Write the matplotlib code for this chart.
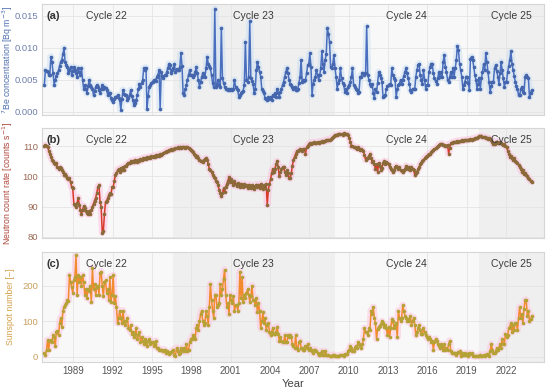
import numpy as np
import matplotlib
matplotlib.use("Agg")
import matplotlib.pyplot as plt

plt.rcParams["font.family"] = ["Liberation Sans", "DejaVu Sans"]

# ---------------------------------------------------------------- data
# monthly values, first month = Oct 1986 (mid-month), one row per year
start_year = 1986 + 9.5 / 12

be7 = [  # 7Be concentration, mBq m^-3 (scaled to Bq below)
    4.2, 6.5, 6.3,
    6.2, 5.8, 5.7, 8.6, 7.8, 6.0, 4.2, 5.0, 5.6, 6.0, 6.5, 7.2,
    7.8, 8.1, 9.0, 9.9, 7.8, 7.3, 7.0, 6.0, 6.5, 7.0, 5.7, 6.4,
    7.0, 6.5, 6.0, 5.5, 6.8, 6.2, 5.7, 6.8, 5.0, 3.6, 4.2, 3.6,
    2.9, 4.0, 5.0, 4.2, 3.8, 3.6, 2.6, 3.2, 3.9, 4.2, 3.8, 3.4,
    2.9, 3.5, 4.2, 3.6, 3.9, 3.7, 3.4, 2.6, 3.0, 2.9, 2.2, 1.8,
    1.6, 2.0, 2.3, 2.3, 2.6, 2.2, 1.8, 0.3, 2.0, 3.4, 2.8, 2.6,
    2.6, 1.8, 2.2, 2.6, 3.4, 2.5, 1.8, 1.0, 1.4, 1.8, 2.6, 3.5,
    4.4, 3.9, 4.5, 5.0, 6.8, 6.5, 6.9, 0.5, 2.5, 3.9, 4.2, 4.5,
    4.7, 4.9, 5.0, 4.8, 5.5, 5.8, 6.5, 0.5, 6.2, 5.6, 5.2, 5.7,
    5.7, 6.2, 6.8, 7.5, 7.3, 6.0, 6.5, 6.9, 7.5, 6.2, 6.6, 6.5,
    6.5, 7.0, 9.1, 7.2, 2.9, 2.6, 3.5, 4.2, 5.0, 5.8, 6.5, 5.7,
    5.7, 5.5, 5.7, 6.2, 7.0, 6.0, 5.0, 3.9, 4.6, 5.5, 6.0, 5.6,
    5.5, 6.8, 8.6, 7.5, 7.1, 6.8, 5.7, 4.5, 3.9, 16.0, 3.9, 4.2,
    5.0, 4.2, 3.9, 13.0, 5.2, 4.5, 3.9, 3.6, 3.5, 3.4, 3.6, 3.4,
    3.6, 3.4, 3.5, 5.0, 3.9, 3.6, 3.4, 2.3, 2.6, 2.9, 3.1, 3.3,
    4.2, 10.9, 5.0, 4.6, 5.5, 14.1, 5.2, 4.8, 4.4, 2.9, 3.5, 6.5,
    7.8, 7.0, 6.2, 5.5, 3.6, 3.2, 2.9, 2.1, 2.0, 1.8, 2.3, 2.0,
    2.3, 1.8, 2.6, 2.4, 2.9, 2.3, 3.6, 3.0, 2.3, 3.1, 3.6, 4.2,
    4.7, 5.5, 6.2, 6.8, 6.0, 5.0, 4.4, 4.1, 3.9, 3.6, 3.8, 3.4,
    3.4, 3.6, 4.5, 5.5, 8.1, 4.7, 5.0, 4.8, 5.0, 6.0, 7.3, 7.5,
    9.1, 7.0, 2.6, 4.4, 5.0, 5.5, 6.5, 5.8, 5.0, 5.7, 6.8, 9.4,
    7.5, 6.2, 8.1, 9.0, 13.0, 12.2, 10.9, 7.0, 6.8, 7.5, 8.9, 6.8,
    5.5, 3.6, 4.5, 5.0, 6.8, 5.2, 4.5, 4.2, 3.1, 3.5, 2.9, 3.9,
    4.2, 4.7, 5.5, 6.8, 4.2, 3.9, 3.6, 3.4, 3.0, 3.1, 5.5, 5.5,
    6.0, 6.0, 5.8, 6.0, 13.3, 5.7, 5.0, 4.4, 4.0, 4.4, 3.0, 2.1,
    3.6, 3.1, 4.5, 6.2, 5.7, 5.2, 4.7, 2.3, 2.5, 2.6, 3.6, 4.0,
    4.2, 4.4, 4.2, 6.8, 5.7, 5.3, 5.0, 2.3, 3.5, 4.2, 4.4, 5.0,
    4.4, 5.0, 5.6, 6.2, 6.8, 6.0, 5.2, 4.4, 3.4, 3.1, 3.6, 3.6,
    3.6, 5.5, 6.5, 7.3, 7.5, 5.7, 5.0, 4.4, 6.5, 5.0, 3.6, 4.2,
    4.2, 6.2, 7.0, 7.5, 7.5, 6.0, 5.2, 4.8, 4.4, 5.2, 6.2, 5.5,
    6.2, 5.5, 7.8, 8.9, 7.0, 6.2, 5.0, 4.7, 5.5, 6.2, 5.5, 6.8,
    5.5, 6.8, 8.0, 10.2, 9.6, 7.5, 6.5, 5.5, 3.6, 4.2, 4.7, 5.5,
    5.5, 4.5, 3.4, 8.3, 8.6, 8.1, 7.0, 5.7, 5.0, 3.6, 4.4, 5.2,
    3.6, 5.2, 6.2, 7.5, 6.5, 9.1, 7.8, 6.2, 4.7, 3.1, 4.0, 4.7,
    4.7, 6.8, 7.3, 6.4, 5.5, 4.4, 6.0, 7.8, 6.5, 5.2, 3.9, 4.7,
    4.7, 6.2, 7.2, 8.1, 9.4, 7.5, 6.5, 5.6, 4.7, 4.0, 3.6, 2.6,
    2.6, 3.5, 3.9, 3.1, 3.0, 5.5, 5.7, 5.4, 5.2, 2.3, 3.0, 3.4,
]

neutron = [  # counts s^-1
    110.2, 110.3, 110.0,
    109.8, 108.5, 107.5, 106.5, 105.5, 105.0, 104.5, 104.0, 104.3, 103.0, 102.5, 103.0,
    102.7, 102.0, 101.5, 100.5, 100.8, 100.0, 99.5, 99.0, 99.3, 98.0, 96.5, 96.0,
    91.0, 90.5, 90.0, 91.2, 93.0, 90.6, 89.0, 87.5, 89.0, 90.2, 89.5, 88.5,
    88.0, 87.5, 88.5, 87.5, 89.0, 90.0, 91.0, 92.0, 93.0, 94.5, 96.5, 97.0,
    91.6, 90.0, 81.4, 81.8, 87.5, 91.6, 92.0, 92.8, 93.8, 94.5, 94.0, 96.5,
    96.5, 98.5, 100.4, 101.0, 102.0, 102.5, 101.5, 102.8, 102.0, 103.0, 102.2, 103.5,
    103.5, 104.0, 104.3, 104.5, 105.0, 104.8, 105.2, 104.6, 105.5, 105.0, 104.8, 105.5,
    105.0, 105.6, 105.3, 106.0, 105.7, 106.2, 105.8, 106.3, 106.0, 106.5, 106.2, 106.6,
    106.3, 106.8, 106.4, 107.0, 106.7, 107.2, 106.8, 107.4, 107.0, 107.3, 107.6, 108.0,
    108.2, 108.5, 108.3, 108.8, 108.6, 109.0, 108.8, 109.2, 109.0, 109.5, 109.3, 109.6,
    109.4, 109.7, 109.5, 109.8, 109.6, 109.7, 109.5, 109.8, 109.6, 109.5, 109.2, 108.8,
    108.3, 108.0, 107.5, 107.0, 106.5, 106.8, 106.0, 105.5, 105.0, 105.2, 104.8, 105.3,
    105.8, 106.0, 105.5, 104.0, 102.5, 102.0, 101.5, 100.5, 99.8, 99.3, 98.5, 98.0,
    97.0, 95.5, 94.5, 93.4, 94.5, 96.0, 94.8, 96.5, 97.5, 98.5, 99.8, 98.0,
    99.0, 98.0, 97.0, 98.5, 97.5, 96.8, 97.8, 97.5, 96.5, 97.6, 97.0, 96.5,
    97.5, 96.8, 97.0, 96.2, 97.3, 96.5, 96.0, 97.0, 96.5, 95.8, 96.8, 97.3,
    96.5, 97.0, 96.0, 97.5, 96.5, 95.8, 97.0, 96.2, 97.6, 90.6, 95.5, 97.5,
    99.0, 101.0, 102.5, 101.5, 102.5, 104.0, 105.0, 103.0, 100.0, 101.5, 102.5, 103.0,
    103.0, 101.5, 100.5, 102.0, 101.0, 99.5, 99.3, 101.0, 103.5, 105.5, 106.5, 107.5,
    108.3, 108.5, 108.8, 109.0, 108.7, 108.5, 108.9, 109.2, 107.5, 109.6, 110.2, 110.6,
    111.0, 110.8, 111.2, 111.0, 111.3, 111.0, 111.2, 111.4, 111.1, 111.5, 111.3, 111.6,
    111.5, 111.8, 111.6, 112.0, 111.9, 112.2, 112.0, 112.4, 112.6, 113.0, 113.3, 113.6,
    113.6, 113.8, 114.0, 113.9, 114.1, 114.0, 113.8, 114.2, 114.0, 113.9, 114.1, 113.8,
    112.6, 111.5, 110.0, 110.2, 109.6, 109.8, 109.5, 109.2, 109.6, 109.0, 108.8, 109.2,
    108.6, 108.3, 107.0, 105.5, 106.2, 106.0, 106.8, 107.5, 106.0, 104.8, 105.2, 104.0,
    102.5, 104.0, 101.5, 104.5, 103.5, 102.0, 102.8, 104.5, 105.0, 104.2, 104.8, 104.5,
    104.0, 103.0, 102.5, 102.0, 101.5, 102.0, 103.0, 103.5, 103.0, 102.5, 103.0, 102.0,
    101.8, 101.5, 102.0, 102.5, 103.5, 103.0, 102.5, 103.0, 102.0, 103.2, 102.5, 102.0,
    100.5, 101.0, 101.5, 102.5, 103.0, 104.0, 104.5, 105.0, 105.5, 106.0, 106.5, 106.8,
    107.0, 107.5, 107.3, 108.0, 108.3, 108.8, 109.0, 109.3, 109.6, 110.0, 110.3, 110.6,
    110.6, 110.8, 110.5, 110.3, 110.0, 110.2, 110.5, 107.5, 109.5, 111.0, 111.2, 111.3,
    111.3, 111.5, 111.4, 111.7, 111.5, 111.8, 111.6, 112.0, 111.8, 112.0, 111.9, 112.1,
    112.0, 112.2, 112.1, 112.3, 112.2, 112.5, 112.4, 112.6, 112.8, 112.7, 113.0, 113.2,
    113.3, 113.2, 113.1, 113.0, 112.9, 112.7, 112.8, 112.5, 112.6, 112.3, 112.0, 111.5,
    110.6, 110.8, 111.5, 111.4, 111.2, 111.0, 111.3, 111.0, 110.8, 110.5, 110.6, 110.2,
    109.6, 108.5, 107.5, 106.5, 106.8, 106.0, 105.5, 106.0, 105.2, 104.8, 104.5, 103.8,
    103.0, 102.5, 101.5, 102.0, 100.9, 101.2, 100.5, 100.0, 99.5, 99.0, 98.5, 98.3,
]

sunspot = [
    10, 4, 20,
    47, 20, 45, 47, 40, 62, 55, 30, 70, 72, 60, 95,
    110, 85, 130, 140, 145, 150, 160, 158, 230, 210, 195, 180,
    215, 225, 286, 175, 230, 210, 225, 200, 230, 210, 175, 190,
    165, 190, 185, 200, 155, 250, 190, 205, 175, 195, 200, 175,
    235, 240, 200, 170, 210, 215, 180, 190, 160, 225, 155, 175,
    230, 150, 170, 140, 95, 110, 130, 110, 95, 130, 100, 90,
    100, 110, 80, 75, 90, 65, 70, 55, 65, 80, 50, 60,
    70, 40, 55, 45, 35, 50, 40, 30, 45, 50, 35, 40,
    40, 30, 35, 45, 25, 25, 20, 20, 20, 18, 15, 20,
    10, 15, 12, 8, 10, 12, 15, 20, 5, 3, 25, 15,
    8, 10, 25, 20, 15, 25, 15, 35, 15, 20, 40, 50,
    50, 60, 55, 50, 80, 90, 75, 100, 120, 130, 100, 90,
    95, 130, 115, 90, 140, 205, 160, 130, 110, 175, 175, 140,
    145, 150, 205, 175, 190, 220, 245, 175, 140, 150, 120, 175,
    160, 150, 170, 130, 145, 145, 130, 150, 240, 165, 225, 155,
    175, 165, 180, 190, 175, 155, 170, 200, 160, 160, 145, 165,
    125, 150, 130, 80, 100, 125, 95, 110, 75, 90, 95, 70,
    60, 70, 80, 65, 65, 70, 85, 65, 45, 55, 45, 40,
    40, 60, 40, 40, 60, 55, 60, 55, 35, 30, 25, 60,
    25, 20, 40, 45, 25, 25, 20, 20, 30, 25, 35, 20,
    25, 20, 15, 10, 20, 20, 15, 10, 5, 5, 10, 15,
    5, 5, 15, 5, 5, 5, 1, 1, 2, 5, 5, 2,
    2, 2, 1, 2, 4, 5, 5, 1, 7, 7, 7, 15,
    20, 30, 25, 15, 15, 25, 30, 25, 40, 35, 30, 25,
    35, 50, 80, 70, 70, 60, 80, 75, 130, 120, 140, 110,
    95, 50, 78, 85, 87, 92, 100, 95, 85, 90, 80, 60,
    85, 55, 80, 105, 100, 80, 90, 95, 55, 130, 110, 100,
    110, 145, 130, 115, 110, 100, 105, 100, 115, 90, 100, 110,
    90, 60, 70, 80, 90, 75, 65, 65, 80, 70, 60, 55,
    50, 55, 50, 40, 45, 20, 40, 50, 45, 35, 30, 25,
    35, 30, 20, 35, 20, 25, 20, 35, 45, 15, 10, 10,
    10, 10, 5, 10, 12, 15, 2, 10, 5, 5, 10, 5,
    8, 1, 10, 8, 10, 2, 1, 1, 1, 1, 1, 2,
    6, 1, 2, 5, 1, 6, 8, 8, 1, 15, 35, 20,
    10, 10, 15, 25, 20, 25, 35, 25, 50, 35, 35, 65,
    55, 60, 80, 85, 95, 70, 90, 75, 95, 95, 75, 110,
    140, 110, 120, 95, 135, 160, 160, 115, 130, 100, 105, 115,
]

cycle_names = ["Cycle 22", "Cycle 23", "Cycle 24", "Cycle 25"]
cycle_bounds = [1986.6, 1996.6, 2008.95, 2019.93, 2024.95]
cycle_label_x = [1991.5, 2002.7, 2014.4, 2022.4]
year_ticks = list(range(1989, 2023, 3))


def months(vals):
    return start_year + np.arange(len(vals)) / 12.0


# ---------------------------------------------------------------- figure
fig = plt.figure(figsize=(5.5, 3.88), dpi=100)
fig.patch.set_facecolor("white")

panels = [
    dict(y=np.array(be7) / 1000.0, rect=(0.0758, 0.7036, 0.9138, 0.2861),
         ylim=(-0.0005, 0.0168), ticks=[0.0, 0.005, 0.010, 0.015], fmt="{:.3f}",
         line="#4a6fbf", mark="#4566ad", glow="#c4dcf2", lab_col="#4f6fb0",
         tick_col="#6f7fae", ylabel=r"$^{7}$Be concentration [Bq m$^{-3}$]", tag="(a)"),
    dict(y=np.array(neutron), rect=(0.0758, 0.3866, 0.9138, 0.2834),
         ylim=(79.6, 116.0), ticks=[80, 90, 100, 110], fmt="{:.0f}",
         line="#d8392b", mark="#8a6a38", glow="#ffb8dc", lab_col="#b0453a",
         tick_col="#9a6a55", ylabel=r"Neutron count rate [counts s$^{-1}$]", tag="(b)"),
    dict(y=np.array(sunspot, dtype=float), rect=(0.0758, 0.067, 0.9138, 0.2835),
         ylim=(-15, 295), ticks=[0, 100, 200], fmt="{:.0f}",
         line="#f28a2e", mark="#b5a236", glow="#ffbcdc", lab_col="#d4a04a",
         tick_col="#c9a060", ylabel="Sunspot number [\u2212]", tag="(c)"),
]

for i, p in enumerate(panels):
    ax = fig.add_axes(p["rect"])
    ax.set_facecolor("#f7f7f7")
    for k in range(4):
        col = "#f8f8f8" if k % 2 == 0 else "#efefef"
        ax.axvspan(cycle_bounds[k], cycle_bounds[k + 1], color=col, lw=0, zorder=0)
    ax.set_xlim(1986.59, 2024.92)
    ax.set_ylim(*p["ylim"])
    ax.set_xticks(year_ticks)
    ax.set_yticks(p["ticks"])
    ax.set_yticklabels([p["fmt"].format(t) for t in p["ticks"]])
    ax.grid(True, color="#e4e4e4", lw=0.6, zorder=0.5)
    ax.set_axisbelow(True)
    for s in ax.spines.values():
        s.set_color("#d6d6d6")
        s.set_linewidth(0.8)
    ax.tick_params(axis="x", length=0, labelsize=7, pad=3)
    ax.tick_params(axis="y", length=0, labelsize=6.8, pad=2.5)
    for lbl in ax.get_yticklabels():
        lbl.set_color(p["tick_col"])

    x = months(p["y"])
    ax.plot(x, p["y"], color=p["glow"], lw=5, alpha=0.45, solid_capstyle="round", zorder=2)
    ax.plot(x, p["y"], color=p["line"], lw=1.1, zorder=3,
            marker="o", ms=2.6, mfc=p["mark"], mec=p["mark"], mew=0)

    ax.set_ylabel(p["ylabel"], color=p["lab_col"], fontsize=6.3)
    ax.yaxis.set_label_coords(-0.053, 0.5)
    ax.text(0.009, 0.89, p["tag"], transform=ax.transAxes, fontsize=8,
            fontweight="bold", color="#333333", va="center")
    for name, cx in zip(cycle_names, cycle_label_x):
        ax.text(cx, 0.89, name, transform=ax.get_xaxis_transform(), ha="center",
                va="center", fontsize=7.5, color="#3a3a3a", zorder=5)
    if i < 2:
        ax.set_xticklabels([])
    else:
        ax.set_xticklabels([str(t) for t in year_ticks], color="#555555")
        ax.set_xlabel("Year", fontsize=8, color="#444444", labelpad=2)

fig.savefig("out.png", dpi=100, facecolor="white")
